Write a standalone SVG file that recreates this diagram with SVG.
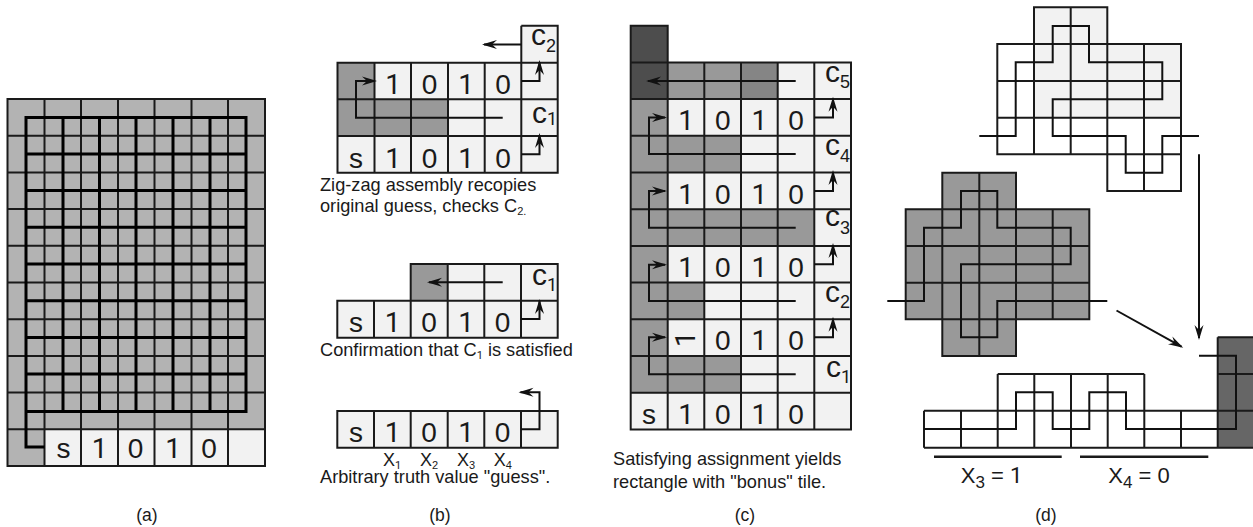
<svg xmlns="http://www.w3.org/2000/svg" width="1253" height="527" viewBox="0 0 1253 527">
<style>
text{font-family:"Liberation Sans",Arial,sans-serif;fill:#1a1a1a}
.d{font-size:28px;text-anchor:middle}
.one{font-family:Roboto,"Liberation Sans",sans-serif}
.c{font-size:30px}
.sc{font-size:18px}
.cap{font-size:18.2px}
.lab{font-size:17.5px;text-anchor:middle}
.x{font-size:18px}
.big{font-size:22px}
.bs{font-size:17px}
.g{fill:none;stroke:#1a1a1a;stroke-width:2}
.w{fill:none;stroke:#111;stroke-width:2}
.t{fill:none;stroke:#000;stroke-width:3}
.ar{fill:none;stroke:#111;stroke-width:2;marker-end:url(#ah)}
.l{fill:#f2f2f2}.m{fill:#999}.m2{fill:#858585}.k{fill:#4d4d4d}.a{fill:#b3b3b3}.e{fill:#666}
</style>
<defs>
<marker id="ah" markerUnits="userSpaceOnUse" markerWidth="16" markerHeight="10" refX="13" refY="5" orient="auto"><path d="M15,5 L0,0.5 L5,5 L0,9.5 Z" fill="#111"/></marker>
</defs>

<g id="panel-a">
<rect class="a" x="7.5" y="99" width="257.5" height="367"/>
<rect class="l" x="44.5" y="429.3" width="220.5" height="36.7"/>
<path class="g" d="M7.5,99H265V466H7.5ZM7.5,135.7H265M7.5,172.4H265M7.5,209.1H265M7.5,245.8H265M7.5,282.5H265M7.5,319.2H265M7.5,355.9H265M7.5,392.6H265M7.5,429.3H265M44.5,99V466M81,99V466M118,99V466M154.5,99V466M191.5,99V466M228,99V466"/>
<path class="t" d="M44.5,447H26V117.4H246V411.5H26M26,154H246M26,190.6H246M26,227.3H246M26,264H246M26,300.7H246M26,337.4H246M26,374.1H246M63,117.4V411.5M99.5,117.4V411.5M136,117.4V411.5M173,117.4V411.5M210,117.4V411.5"/>
<text class="d" x="63.5" y="457.5">s</text><text class="d one" x="99.7" y="457.5">1</text><text class="d" x="135.5" y="457.5">0</text><text class="d one" x="173" y="457.5">1</text><text class="d" x="209" y="457.5">0</text>
<text class="lab" x="147" y="521">(a)</text>
</g>

<g id="panel-b-top">
<rect class="l" x="337.5" y="62.7" width="220.2" height="110"/>
<rect class="l" x="521.3" y="25.7" width="36.4" height="37"/>
<rect class="m" x="337.5" y="62.7" width="37" height="36.6"/>
<rect class="m" x="337.5" y="99.3" width="110.5" height="36.7"/>
<path class="g" d="M337.5,62.7H557.7V172.7H337.5ZM337.5,99.3H557.7M337.5,136H557.7M374.5,62.7V172.7M411,62.7V172.7M448,62.7V172.7M484.7,62.7V172.7M521.3,25.7H557.7V172.7M521.3,25.7V172.7"/>
<text class="d one" x="393" y="94">1</text><text class="d" x="429.5" y="94">0</text><text class="d one" x="466" y="94">1</text><text class="d" x="503" y="94">0</text>
<text class="d" x="356" y="168">s</text><text class="d one" x="393" y="168">1</text><text class="d" x="429.5" y="168">0</text><text class="d one" x="466" y="168">1</text><text class="d" x="503" y="168">0</text>
<text x="531" y="45"><tspan class="c">c</tspan><tspan class="sc" dy="7">2</tspan></text>
<text x="532" y="123"><tspan class="c">c</tspan><tspan class="sc one" dy="2">1</tspan></text>
<text class="cap" x="320" y="191">Zig-zag assembly recopies</text>
<text class="cap" x="320" y="212">original guess, checks C<tspan font-size="11" dy="3">2.</tspan></text>
</g>

<g id="panel-b-mid">
<rect class="l" x="337.3" y="300.7" width="220.4" height="37"/>
<rect class="l" x="447.7" y="264" width="110" height="36.7"/>
<rect class="m" x="410.7" y="264" width="37" height="36.7"/>
<path class="g" d="M337.3,300.7H557.7V337.7H337.3ZM410.7,300.7V264H557.7V300.7M374,300.7V337.7M410.7,300.7V337.7M447.7,264V337.7M484.3,264V337.7M521,264V337.7"/>
<text class="d" x="356" y="332">s</text><text class="d one" x="392.5" y="332">1</text><text class="d" x="429" y="332">0</text><text class="d one" x="466" y="332">1</text><text class="d" x="502.5" y="332">0</text>
<text x="532" y="285"><tspan class="c">c</tspan><tspan class="sc one" dy="6">1</tspan></text>
<text class="cap" x="320" y="356">Confirmation that C<tspan class="one" font-size="11" dy="3">1</tspan><tspan dy="-3"> is satisfied</tspan></text>
</g>

<g id="panel-b-bot">
<rect class="l" x="337.3" y="411" width="220.4" height="36.7"/>
<path class="g" d="M337.3,411H557.7V447.7H337.3ZM374,411V447.7M410.7,411V447.7M447.7,411V447.7M484.3,411V447.7M521,411V447.7"/>
<text class="d" x="356" y="442">s</text><text class="d one" x="392.5" y="442">1</text><text class="d" x="429" y="442">0</text><text class="d one" x="466" y="442">1</text><text class="d" x="502.5" y="442">0</text>
<text class="x" x="383" y="466">X<tspan class="one" font-size="11" dy="3">1</tspan></text>
<text class="x" x="420" y="466">X<tspan font-size="11" dy="3">2</tspan></text>
<text class="x" x="457" y="466">X<tspan font-size="11" dy="3">3</tspan></text>
<text class="x" x="493.7" y="466">X<tspan font-size="11" dy="3">4</tspan></text>
<text class="cap" x="320" y="483">Arbitrary truth value "guess".</text>
<text class="lab" x="440" y="521">(b)</text>
</g>

<g id="panel-c">
<rect class="l" x="630.7" y="62.4" width="220.3" height="367"/>
<rect class="k" x="630.7" y="25.7" width="37" height="73.4"/>
<rect class="m" x="667.7" y="62.4" width="73.3" height="36.7"/>
<rect class="m2" x="741" y="62.4" width="36.7" height="36.7"/>
<rect class="m" x="630.7" y="99.1" width="37" height="293.6"/>
<rect class="m" x="667.7" y="135.8" width="73.3" height="36.7"/>
<rect class="m" x="667.7" y="209.2" width="146.6" height="36.7"/>
<rect class="m" x="667.7" y="282.6" width="36.6" height="36.7"/>
<rect class="m" x="667.7" y="356" width="73.3" height="36.7"/>
<path class="g" d="M630.7,25.7H667.7V429.4H630.7ZM630.7,62.4H851V429.4H630.7M630.7,99.1H851M630.7,135.8H851M630.7,172.5H851M630.7,209.2H851M630.7,245.9H851M630.7,282.6H851M630.7,319.3H851M630.7,356H851M630.7,392.7H851M704.3,62.4V429.4M741,62.4V429.4M777.7,62.4V429.4M814.3,62.4V429.4"/>
<text class="d one" x="686" y="130">1</text><text class="d" x="722.7" y="130">0</text><text class="d one" x="759.4" y="130">1</text><text class="d" x="796" y="130">0</text>
<text class="d one" x="686" y="203.5">1</text><text class="d" x="722.7" y="203.5">0</text><text class="d one" x="759.4" y="203.5">1</text><text class="d" x="796" y="203.5">0</text>
<text class="d one" x="686" y="277">1</text><text class="d" x="722.7" y="277">0</text><text class="d one" x="759.4" y="277">1</text><text class="d" x="796" y="277">0</text>
<text class="d one" transform="rotate(-90 695 347)" x="695" y="347" style="text-anchor:start">1</text><text class="d" x="722.7" y="350">0</text><text class="d one" x="759.4" y="350">1</text><text class="d" x="796" y="350">0</text>
<text class="d" x="649" y="424">s</text><text class="d one" x="686" y="424">1</text><text class="d" x="722.7" y="424">0</text><text class="d one" x="759.4" y="424">1</text><text class="d" x="796" y="424">0</text>
<text x="825" y="81.7"><tspan class="c">c</tspan><tspan class="sc" dy="6.5">5</tspan></text>
<text x="825" y="155"><tspan class="c">c</tspan><tspan class="sc" dy="6.5">4</tspan></text>
<text x="825" y="226"><tspan class="c">c</tspan><tspan class="sc" dy="8">3</tspan></text>
<text x="825" y="301.7"><tspan class="c">c</tspan><tspan class="sc" dy="6.5">2</tspan></text>
<text x="826" y="376.7"><tspan class="c">c</tspan><tspan class="sc one" dy="6">1</tspan></text>
<text class="cap" x="613" y="465">Satisfying assignment yields</text>
<text class="cap" x="613" y="488">rectangle with "bonus" tile.</text>
<text class="lab" x="745" y="521">(c)</text>
</g>

<g id="panel-d-top">
<path class="l" d="M1034,7.3H1107.3V44H1181V117.7H1034Z"/>
<path class="g" d="M1034,154.3V7.3H1107.3V191H1181V44H997.3V154.3H1181M997.3,81H1181M997.3,117.7H1181M1070.7,7.3V154.3M1144,44V191M1107.3,154.3H1181"/>
<path class="w" d="M979.3,136H1015.7V62.3H1052.7V26H1089V62.3H1162.3V99.3H1052.7V136H1125.7V172.7H1162.3V136H1199"/>
</g>

<g id="panel-d-mid">
<path class="m" d="M942.3,172.7H1016V209.3H1089.3V319.3H1016V356H942.3V319.3H905.7V209.3H942.3Z"/>
<path class="g" d="M942.3,172.7H1016V209.3H1089.3V319.3H1016V356H942.3V319.3H905.7V209.3H942.3ZM905.7,209.3H1089.3M905.7,246H1089.3M905.7,282.7H1089.3M905.7,319.3H1089.3M942.3,172.7V356M979.3,172.7V356M1016,172.7V356M1052.7,209.3V319.3"/>
<path class="w" d="M887.3,301H924V227.7H961V191H997.3V227.7H1070.7V264.3H961V337.3H997.3V301H1107.3"/>
</g>

<g id="panel-d-bot">
<rect class="e" x="1217.7" y="337.3" width="36" height="110.4"/>
<path class="g" d="M924,410.7H1253M924,447.7H1253M924,410.7V447.7M961,410.7V447.7M997.7,374V447.7M1034.3,374V447.7M1071,374V447.7M1107.7,374V447.7M1144.3,374V447.7M1181,410.7V447.7M1217.7,337.3V447.7M997.7,374H1144.3M1217.7,337.3H1253M1217.7,374H1253"/>
<path class="w" d="M924,429H1016V392.3H1052.7V429H1089.3V392.3H1126V429H1236V355.7H1199"/>
<path fill="none" stroke="#1a1a1a" stroke-width="2.6" d="M934,456.7H1061.7M1080,456.7H1208.3"/>
<text class="big" x="960.7" y="483.3">X<tspan class="bs" dy="5">3</tspan><tspan dy="-5"> = </tspan><tspan class="one">1</tspan></text>
<text class="big" x="1108.3" y="483.3">X<tspan class="bs" dy="5">4</tspan><tspan dy="-5"> = 0</tspan></text>
<text class="lab" x="1046" y="521">(d)</text>
</g>

<g id="connectors">
<path class="ar" d="M521.3,44.5H484"/>
<path class="ar" d="M502.7,117.7H356V81H375"/>
<path class="ar" d="M521.3,81H539.5V62"/>
<path class="ar" d="M521.3,154.3H539.5V135"/>
<path class="ar" d="M502.7,282.3H429"/>
<path class="ar" d="M521,319H539.5V301"/>
<path class="ar" d="M521,429.3H539.5V392.3H520.5"/>
<path class="ar" d="M795.7,81H648"/>
<path class="ar" d="M795.7,154H649V117.5H665"/>
<path class="ar" d="M814.3,117.5H833V98.7"/>
<path class="ar" d="M795.7,227.7H649V191H665"/>
<path class="ar" d="M814.3,191H833V172"/>
<path class="ar" d="M795.7,301H649V264.7H665"/>
<path class="ar" d="M814.3,264.3H833V245"/>
<path class="ar" d="M795.7,374.3H649V337.3H665"/>
<path class="ar" d="M814.3,337.3H833V318.7"/>
<path class="ar" d="M1199,154.3V338"/>
<path class="ar" d="M1116.5,310.5L1181.5,346.7"/>
</g>
</svg>
